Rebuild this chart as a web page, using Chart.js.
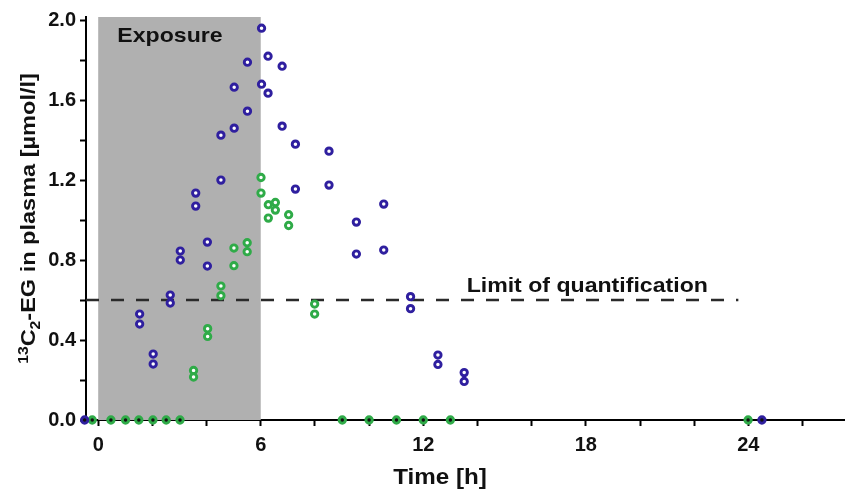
<!DOCTYPE html>
<html>
<head>
<meta charset="utf-8">
<script src="https://cdn.jsdelivr.net/npm/chart.js@4.4.1/dist/chart.umd.min.js"></script>
<style>
html, body { margin: 0; padding: 0; background: #fff; overflow: hidden; }
#wrap { width: 845px; height: 490px; overflow: hidden; }
</style>
</head>
<body>
<div id="wrap"><canvas id="myChart" width="852" height="490"></canvas></div>
<script>
// values (time in h, 13C2-EG in µmol/l)
var blueTime = [-0.5, 1.53, 1.53, 2.03, 2.03, 2.66, 2.66, 3.03, 3.03, 3.6, 3.6, 4.03, 4.03, 4.53, 4.53, 5.02, 5.02, 5.51, 5.51, 6.03, 6.03, 6.27, 6.27, 6.79, 6.79, 7.28, 7.28, 8.52, 8.52, 9.53, 9.53, 10.54, 10.54, 11.53, 11.53, 12.54, 12.54, 13.51, 13.51, 24.5]
var blueConc = [0, 0.53, 0.48, 0.33, 0.28, 0.625, 0.585, 0.845, 0.80, 1.135, 1.07, 0.89, 0.77, 1.425, 1.2, 1.665, 1.46, 1.79, 1.545, 1.96, 1.68, 1.82, 1.635, 1.77, 1.47, 1.38, 1.155, 1.345, 1.175, 0.99, 0.83, 1.08, 0.85, 0.617, 0.557, 0.325, 0.278, 0.237, 0.193, 0]

var greenTime = [-0.22, 0.47, 1.01, 1.5, 2.02, 2.51, 3.02, 3.52, 3.52, 4.04, 4.04, 4.53, 4.53, 5.01, 5.01, 5.5, 5.5, 6.01, 6.01, 6.28, 6.28, 6.54, 6.54, 7.03, 7.03, 7.99, 7.99, 9.01, 10.0, 11.01, 12.0, 13.0, 23.99]
var greenConc = [0, 0, 0, 0, 0, 0, 0, 0.248, 0.215, 0.457, 0.418, 0.67, 0.622, 0.86, 0.772, 0.887, 0.842, 1.213, 1.135, 1.077, 1.01, 1.088, 1.05, 1.027, 0.973, 0.58, 0.53, 0, 0, 0, 0, 0, 0]

var loqTime = [-0.45, 23.63]
var loqConc = [0.6, 0.6]

var exposureTime = [0, 6]

var xTicks = [0, 2, 4, 6, 8, 10, 12, 14, 16, 18, 20, 22, 24, 26]
var yTicks = [0, 0.2, 0.4, 0.6, 0.8, 1.0, 1.2, 1.4, 1.6, 1.8, 2.0]

var blue = '#2f1f9f'
var green = '#2fab48'
var FONT = '"Liberation Sans", Arial, Helvetica, sans-serif'

function pairs(xs, ys) {
    var out = []
    for (var i = 0; i < xs.length; i++) out.push({x: xs[i], y: ys[i]})
    return out
}

function holeColor(ctx) {
    var v = ctx.raw ? ctx.raw.y : 1
    return v === 0 ? '#111' : '#fff'
}

// stretched bold text helper
function drawText(ctx, txt, x, y, size, align) {
    ctx.save()
    ctx.font = 'bold ' + size + 'px ' + FONT
    ctx.fillStyle = '#111'
    ctx.textBaseline = 'alphabetic'
    var w = ctx.measureText(txt).width * 1.1
    var x0 = align === 'center' ? x - w / 2 : x
    ctx.translate(x0, y)
    ctx.scale(1.1, 1)
    ctx.fillText(txt, 0, 0)
    ctx.restore()
}

var decor = {
    id: 'decor',
    beforeDatasetsDraw: function (chart) {
        var ctx = chart.ctx
        var xs = chart.scales.x, ys = chart.scales.y
        var x0 = xs.getPixelForValue(exposureTime[0])
        var x1 = xs.getPixelForValue(exposureTime[1])
        ctx.save()
        ctx.fillStyle = '#b0b0b0'
        ctx.fillRect(x0, chart.chartArea.top, x1 - x0, ys.getPixelForValue(0) - chart.chartArea.top)
        ctx.restore()
        drawText(ctx, 'Exposure', xs.getPixelForValue(2.65), ys.getPixelForValue(1.89), 21, 'center')
        drawText(ctx, 'Limit of quantification', xs.getPixelForValue(13.6), ys.getPixelForValue(0.64), 21, 'left')
    },
    afterDraw: function (chart) {
        var ctx = chart.ctx
        var xs = chart.scales.x
        drawText(ctx, 'Time [h]', xs.getPixelForValue(12.62), chart.chartArea.bottom + 64, 22, 'center')

        // y title with real super/subscripts
        var cy = (chart.chartArea.top + chart.chartArea.bottom) / 2
        var parts = [
            {t: '13', s: 14, dy: -7},
            {t: 'C', s: 21, dy: 0},
            {t: '2', s: 14, dy: 5},
            {t: '-EG in plasma [\u00b5mol/l]', s: 21, dy: 0}
        ]
        ctx.save()
        ctx.translate(35, cy)
        ctx.rotate(-Math.PI / 2)
        ctx.scale(1.12, 1)
        ctx.fillStyle = '#111'
        var total = 0
        parts.forEach(function (p) {
            ctx.font = 'bold ' + p.s + 'px ' + FONT
            p.w = ctx.measureText(p.t).width
            total += p.w
        })
        var px = -total / 2
        parts.forEach(function (p) {
            ctx.font = 'bold ' + p.s + 'px ' + FONT
            ctx.fillText(p.t, px, p.dy)
            px += p.w
        })
        ctx.restore()
    }
}

var pointStyle = {
    pointRadius: 3.2,
    pointHoverRadius: 3.2,
    pointBorderWidth: 2.9,
    pointHoverBorderWidth: 2.9,
    showLine: false,
    clip: false
}

var config = {
    type: 'scatter',
    data: {
        datasets: [
            Object.assign({
                label: 'blue',
                data: pairs(blueTime, blueConc),
                borderColor: blue,
                backgroundColor: holeColor,
                order: 0
            }, pointStyle),
            Object.assign({
                label: 'green',
                data: pairs(greenTime, greenConc),
                borderColor: green,
                backgroundColor: holeColor,
                order: 1
            }, pointStyle),
            {
                type: 'line',
                label: 'LOQ',
                data: pairs(loqTime, loqConc),
                borderColor: '#2a2a2a',
                borderWidth: 2.6,
                borderDash: [13, 12],
                pointRadius: 0,
                fill: false,
                order: 2
            }
        ]
    },
    options: {
        responsive: false,
        animation: false,
        events: [],
        layout: { padding: { top: 17, right: 0, left: 0, bottom: 0 } },
        plugins: {
            legend: { display: false },
            tooltip: { enabled: false }
        },
        scales: {
            x: {
                type: 'linear',
                min: -0.45,
                max: 27.6,
                afterBuildTicks: function (scale) {
                    scale.ticks = xTicks.map(function (v) { return {value: v} })
                },
                afterFit: function (scale) { scale.height = 70 },
                border: { color: '#000', width: 2 },
                grid: { drawOnChartArea: false, drawTicks: true, tickLength: 6, tickWidth: 2, tickColor: '#000' },
                ticks: {
                    autoSkip: false,
                    maxRotation: 0,
                    padding: 7,
                    color: '#111',
                    font: { family: FONT, size: 20, weight: 'bold' },
                    callback: function (v) { return v % 6 === 0 ? String(v) : '' }
                }
            },
            y: {
                min: 0,
                max: 2.016,
                afterBuildTicks: function (scale) {
                    scale.ticks = yTicks.map(function (v) { return {value: v} })
                },
                afterFit: function (scale) { scale.width = 86 },
                border: { color: '#000', width: 2 },
                grid: { drawOnChartArea: false, drawTicks: true, tickLength: 6, tickWidth: 2, tickColor: '#000' },
                ticks: {
                    autoSkip: false,
                    padding: 4,
                    color: '#111',
                    font: { family: FONT, size: 20, weight: 'bold' },
                    callback: function (v) { return Math.round(v * 10) % 4 === 0 ? v.toFixed(1) : '' }
                }
            }
        }
    },
    plugins: [decor]
}

const myChart = new Chart(document.getElementById('myChart'), config)
</script>
</body>
</html>
